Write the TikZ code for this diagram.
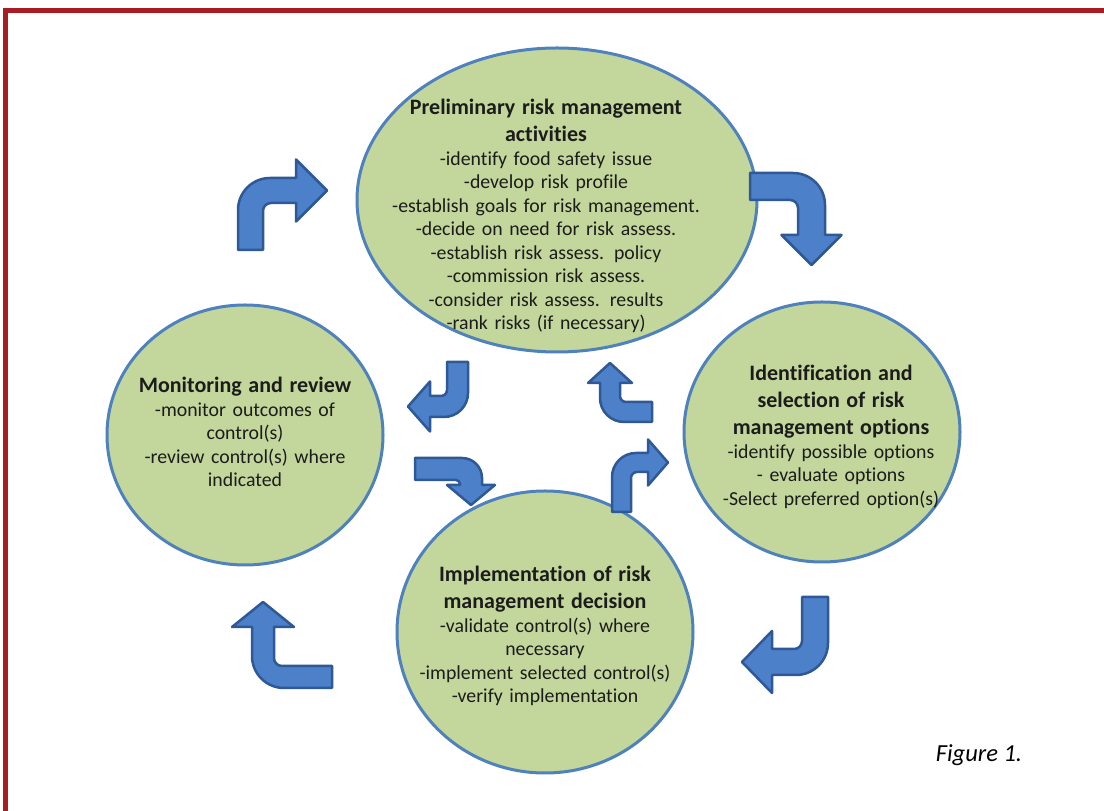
\documentclass[tikz,border=0pt]{standalone}
\usepackage{fontspec}
\setmainfont{Carlito}[Ligatures={NoCommon,NoRare,NoDiscretionary}]
\usetikzlibrary{shapes.geometric}
\definecolor{framered}{RGB}{168,28,36}
\definecolor{stagefill}{RGB}{195,214,155}
\definecolor{stageline}{RGB}{79,129,189}
\definecolor{arrowfill}{RGB}{76,128,200}
\definecolor{arrowline}{RGB}{46,88,150}
\definecolor{txt}{RGB}{28,28,28}
\newcommand{\headfont}{\bfseries\fontsize{22}{27}\selectfont}
\newcommand{\bodyfont}{\fontsize{19.8}{23.5}\selectfont}
% #1 origin, #2 rotation, #3 w, #4 T, #5 xb, #6 hh, #7 hl, #8 Ro, #9 Ri
\newcommand{\bentarrow}[9]{%
  \draw[bentstyle, shift={#1}, rotate=#2]
    (0,0) -- (0,{#4-#8}) arc[start angle=180,end angle=90,radius=#8]
    -- (#5,#4) -- (#5,{#4-#3/2+#6}) -- ({#5+#7},{#4-#3/2})
    -- (#5,{#4-#3/2-#6}) -- (#5,{#4-#3}) -- ({#3+#9},{#4-#3})
    arc[start angle=90,end angle=180,radius=#9] -- (#3,0) -- cycle;}
\tikzset{
  stage/.style={ellipse, draw=stageline, fill=stagefill, line width=3, inner sep=0},
  stagetext/.style={align=center, text=txt, font=\bodyfont, inner sep=0},
  bentstyle/.style={fill=arrowfill, draw=arrowline, line width=2.5, line join=round}
}
\begin{document}
\begin{tikzpicture}[x=1pt,y=1pt]
\clip (0,0) rectangle (1104,811);
\fill[white] (0,0) rectangle (1104,811);
\draw[framered, line width=5] (5.5,-20) -- (5.5,800.5) -- (1130,800.5);

\node[stage, minimum width=400, minimum height=304] (prelim) at (557,611) {};
\node[stage, minimum width=276, minimum height=260] (ident) at (822,379) {};
\node[stage, minimum width=276, minimum height=260] (monit) at (245,376) {};
\node[stage, minimum width=296, minimum height=282] (impl) at (545,179) {};

\node[stagetext, text width=350] (prelimtext) at (546,595) {%
{\headfont Preliminary risk management\\activities\par}
-identify food safety issue\\
-develop risk profile\\
-establish goals for risk management.\\
-decide on need for risk assess.\\
-establish risk assess. policy\\
-commission risk assess.\\
-consider risk assess. results\\
-rank risks (if necessary)};

\node[stagetext, text width=280] (identtext) at (831,374) {%
{\headfont Identification and\\selection of risk\\management options\par}
-identify possible options\\
- evaluate options\\
-Select preferred option(s)};

\node[stagetext, text width=250] (monittext) at (245,379) {%
{\headfont Monitoring and review\par}
-monitor outcomes of\\
control(s)\\
-review control(s) where\\
indicated};

\node[stagetext, text width=290] (impltext) at (545,175) {%
{\headfont Implementation of risk\\management decision\par}
-validate control(s) where\\
necessary\\
-implement selected control(s)\\
-verify implementation};

\bentarrow{(238,561)}{0}{25}{72}{58}{31}{31}{32}{8}
\bentarrow{(750,638)}{-90}{27}{75}{62}{30}{30}{32}{8}
\bentarrow{(468,449)}{180}{21}{55}{38}{25}{22}{24}{6}
\bentarrow{(652,389)}{90}{20}{52}{39}{22}{20}{24}{6}
\bentarrow{(612,299)}{0}{19}{59}{36}{23}{20}{24}{6}
\bentarrow{(828,214)}{180}{26}{78}{56}{31}{30}{32}{8}
\bentarrow{(332,123)}{90}{22}{80}{61}{31}{25}{32}{8}
\bentarrow{(415,353)}{-90}{22}{67}{27}{24}{20}{20}{4}

\node[font=\itshape\fontsize{24.5}{28}\selectfont, text=black, inner sep=0] (caption) at (979,56) {Figure 1.};
\end{tikzpicture}
\end{document}
